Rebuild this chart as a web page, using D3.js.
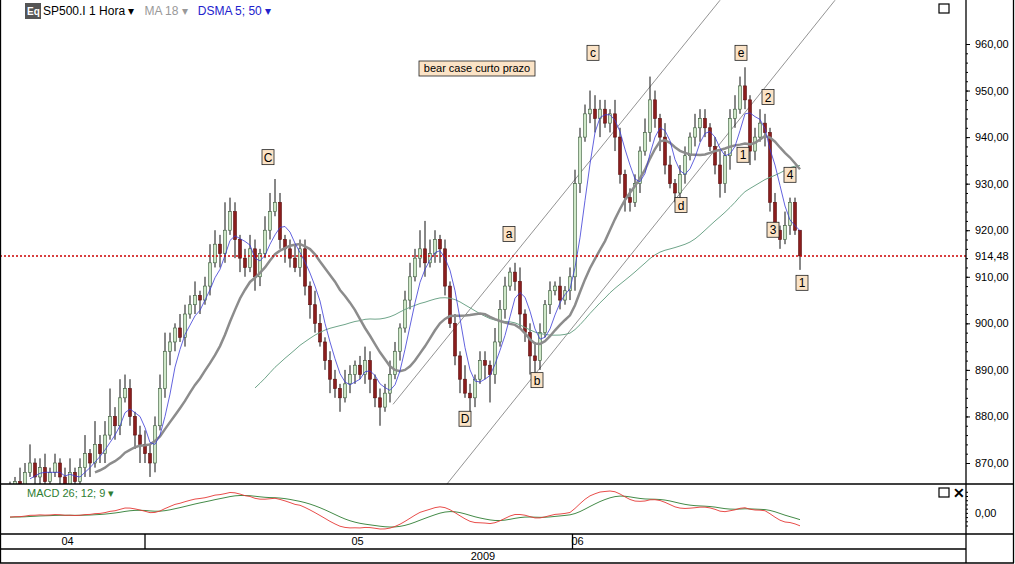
<!DOCTYPE html>
<html><head><meta charset="utf-8">
<script src="https://cdn.jsdelivr.net/npm/d3@7"></script>
<style>body{margin:0;background:#fff}svg{display:block;font-family:Arial,"Liberation Sans",sans-serif}</style>
</head><body><svg id="c" width="1015" height="564"></svg>
<script>
// hourly closes, one per bar
const closes = [864,866,865,868,870,867,869,866,868,
  870,867,865,868,866,869,872,870,874,872,
  876,880,878,884,886,880,876,874,872,870,
  878,886,894,896,899,897,902,904,906,905,
  908,913,917,915,920,924,918,914,912,916,
  910,915,920,924,926,918,916,914,912,916,
  908,904,900,896,892,888,886,884,887,889,
  891,889,892,888,884,882,885,889,894,899,
  905,910,914,916,913,915,918,916,908,900,
  893,888,885,884,888,892,891,889,896,903,
  908,911,909,902,898,893,892,898,904,907,
  908,905,907,910,930,940,945,946,944,946,
  943,945,940,932,927,926,930,937,941,948,
  944,940,934,930,928,932,936,940,942,944,
  942,938,934,930,936,944,946,951,948,937,
  940,943,941,926,920,918,921,926,920,914.48];
// wick extents above/below the body
const wickHi = [2,1,3,2,4,1,2,3,1, 2,1,2,3,1,2,4,1,5,2, 3,6,2,4,3,2,1,2,3,2, 2,3,4,2,1,3,2,2,3,1, 2,4,3,2,6,3,2,1,2,3, 2,1,3,4,5,2,1,2,3,2, 2,1,3,2,1,2,2,1,3,2, 1,2,3,2,1,2,2,3,2,1, 2,3,2,4,6,3,2,1,2,1, 2,1,3,2,1,2,2,1,3,2, 2,1,2,3,1,2,3,2,1,2, 1,2,1,2,3,2,2,4,3,2, 2,1,3,2,1,2,2,1,3,5, 2,1,3,2,1,2,2,1,3,2, 2,1,2,3,1,2,3,2,4,1, 2,3,2,1,2,1,3,1,1,0];
const wickLo = [1,2,1,2,1,3,2,1,2, 1,2,3,1,2,1,2,3,1,2, 2,1,3,2,1,2,3,4,2,3, 2,1,2,3,2,1,2,1,2,3, 1,2,1,3,2,1,4,3,2,1, 3,2,1,2,1,2,3,2,1,2, 2,3,2,1,2,3,2,3,1,2, 2,1,2,3,2,4,1,2,1,2, 1,2,1,2,3,1,2,3,2,1, 2,3,1,4,2,1,3,6,2,1, 2,1,2,3,2,4,3,2,1,2, 1,2,1,2,3,2,1,2,3,4, 1,2,3,2,3,2,1,2,1,2, 2,3,2,1,2,3,2,1,2,3, 2,1,2,3,2,3,2,1,2,3, 2,1,3,2,1,2,1,2,1,3];
const priceTicks = [870,880,890,900,910,920,930,940,950,960];
const lastPrice = 914.48;
const months = [{label:'04', i:11.5, sep:27}, {label:'05', i:69.5, sep:null}, {label:'06', i:113.5, sep:112.5}];
const channel = [[[76.6,882.6],[142,969.4]], [[87.4,865.5],[165,969.4]]];
const waves = [['C',51.6,935.7],['a',99.8,919.2],['b',105.4,887.8],['c',116.6,958.1],['d',134.2,925.4],
  ['D',91.0,879.5],['e',146.2,958.1],['2',151.6,948.6],['1',146.6,936.2],['4',156,931.9],['3',152.6,920.1],['1',158.4,908.7]];

const svg = d3.select('#c');
const W = 966, mainB = 484, macdB = 534;
const x = d3.scaleLinear().domain([0,1]).range([10,15]);
const y = d3.scaleLinear().domain([870,960]).range([463,44]);

const opens = closes.map((c,i) => i ? closes[i-1] : c - 1);
const sma = n => closes.map((_,i) => i < n-1 ? null : d3.mean(closes.slice(i-n+1,i+1)));
const ema = (arr,n) => { const k = 2/(n+1); let e = arr[0]; return arr.map(v => (e = v*k + e*(1-k))); };
const ma18 = sma(18), ma5 = sma(5), ma50 = sma(50);
const ema26 = ema(closes,26);
const macd = ema(closes,12).map((v,i) => v - ema26[i]);
const sig = ema(macd,9);

const main = svg.append('g');
main.append('clipPath').attr('id','cm').append('rect').attr('width',W).attr('height',mainB);
const g = main.append('g').attr('clip-path','url(#cm)');

// channel
channel.forEach(l => g.append('line')
  .attr('x1',x(l[0][0])).attr('y1',y(l[0][1])).attr('x2',x(l[1][0])).attr('y2',y(l[1][1]))
  .style('stroke','#777').style('stroke-width',0.8));

const line2 = d3.line().defined(d => d[0] != null).x(d => x(d[1])).y(d => y(d[0]));
const withIdx = a => a.map((v,i) => [v,i]);

// candles
closes.forEach((c,i) => {
  const o = opens[i], up = c >= o;
  const top = Math.max(o,c), bot = Math.min(o,c);
  g.append('line').attr('x1',x(i)).attr('x2',x(i))
    .attr('y1',y(top + wickHi[i])).attr('y2',y(bot - wickLo[i]))
    .style('stroke','#111').style('stroke-width',1);
  g.append('rect').attr('x',x(i)-1.5).attr('width',3)
    .attr('y',y(top)).attr('height',Math.max(1,y(bot)-y(top)))
    .style('fill', up ? '#cfe8c8' : '#8b1d1d').style('stroke', up ? '#3a5a3a' : '#5a0f0f').style('stroke-width',0.6);
});

g.append('path').attr('d',line2(withIdx(ma50))).style('fill','none').style('stroke','#6fa58a').style('stroke-width',1);
g.append('path').attr('d',line2(withIdx(ma18))).style('fill','none').style('stroke','#8c8c8c').style('stroke-width',2.5);
g.append('path').attr('d',line2(withIdx(ma5))).style('fill','none').style('stroke','#3b3bd6').style('stroke-width',0.8);

// last price line
g.append('line').attr('x1',0).attr('x2',W).attr('y1',y(lastPrice)).attr('y2',y(lastPrice))
  .style('stroke','#c00').style('stroke-width',1.5).style('stroke-dasharray','2,2');

// wave labels
waves.forEach(([t,i,p]) => {
  const cx = x(i), cy = y(p);
  g.append('rect').attr('x',cx-6).attr('y',cy-7.5).attr('width',12).attr('height',15)
    .style('fill','#fbe3c6').style('stroke','#222').style('stroke-width',0.8);
  g.append('text').attr('x',cx).attr('y',cy+4.5).attr('text-anchor','middle')
    .style('font-size','12px').text(t);
});
g.append('rect').attr('x',419).attr('y',61).attr('width',116).attr('height',15)
  .style('fill','#fbe3c6').style('stroke','#222').style('stroke-width',0.8);
g.append('text').attr('x',477).attr('y',72).attr('text-anchor','middle').style('font-size','11px').text('bear case curto prazo');

// header
svg.append('rect').attr('x',25).attr('y',3).attr('width',16).attr('height',16).style('fill','#555');
svg.append('text').attr('x',27).attr('y',15).style('font-size','10px').style('fill','#fff').style('font-weight','bold').text('Eq');
const hdr = svg.append('text').attr('x',43).attr('y',15).style('font-size','12px');
hdr.append('tspan').style('fill','#000').text('SP500.I 1 Hora ▾');
hdr.append('tspan').attr('dx',10).style('fill','#999').text('MA 18 ▾');
hdr.append('tspan').attr('dx',10).style('fill','#2222cc').text('DSMA 5; 50 ▾');
svg.append('rect').attr('x',939).attr('y',4).attr('width',10).attr('height',9).style('fill','none').style('stroke','#000').style('stroke-width',1.2);

// right axis
const ax = svg.append('g').attr('transform',`translate(${W},0)`)
  .call(d3.axisRight(y).tickValues(priceTicks).tickSize(4).tickFormat(d => d3.format('.2f')(d).replace('.',',')));
ax.select('.domain').remove();
ax.selectAll('text').style('font-size','11px').style('font-family','Arial,"Liberation Sans",sans-serif').attr('x',9);
svg.append('g').attr('transform',`translate(${W},0)`)
  .call(d3.axisRight(y).ticks(45).tickSize(2).tickFormat(''))
  .call(s => s.select('.domain').remove());
svg.append('text').attr('x',W+9).attr('y',y(lastPrice)+4).style('font-size','11px').text(d3.format('.2f')(lastPrice).replace('.',','));

// MACD
const ext = d3.extent(macd.concat(sig));
const ym = d3.scaleLinear().domain(ext).range([macdB-5,mainB+7]);
svg.append('path').attr('d',d3.line().x((d,i)=>x(i)).y(d=>ym(d))(sig)).style('fill','none').style('stroke','#2e7d32').style('stroke-width',0.9);
svg.append('path').attr('d',d3.line().x((d,i)=>x(i)).y(d=>ym(d))(macd)).style('fill','none').style('stroke','#e53935').style('stroke-width',0.9);
svg.append('text').attr('x',27).attr('y',497).style('font-size','11px').style('fill','#2e7d32').text('MACD 26; 12; 9 ▾');
svg.append('text').attr('x',W+9).attr('y',517).style('font-size','11px').text('0,00');
svg.append('g').attr('transform',`translate(${W},0)`)
  .call(d3.axisRight(ym).ticks(10).tickSize(2).tickFormat(''))
  .call(s => s.select('.domain').remove());
svg.append('rect').attr('x',939).attr('y',488).attr('width',10).attr('height',9).style('fill','none').style('stroke','#000').style('stroke-width',1.2);
svg.append('text').attr('x',953).attr('y',498).style('font-size','14px').style('font-weight','bold').text('✕');

// frame
const frame = (x1,y1,x2,y2) => svg.append('line').attr('x1',x1).attr('y1',y1).attr('x2',x2).attr('y2',y2).style('stroke','#000').style('stroke-width',1.3);
frame(0.5,0,0.5,563); frame(W,0,W,563); frame(1013.5,0,1013.5,563);
frame(0,mainB,1014,mainB); frame(0,macdB,1014,macdB); frame(0,549,W,549); frame(0,563,1014,563);

// dates
months.forEach(m => {
  svg.append('text').attr('x',x(m.i)).attr('y',545).attr('text-anchor','middle').style('font-size','11px').text(m.label);
  if (m.sep != null) frame(x(m.sep),macdB,x(m.sep),549);
});
svg.append('text').attr('x',483).attr('y',560).attr('text-anchor','middle').style('font-size','11px').text('2009');
</script></body></html>
